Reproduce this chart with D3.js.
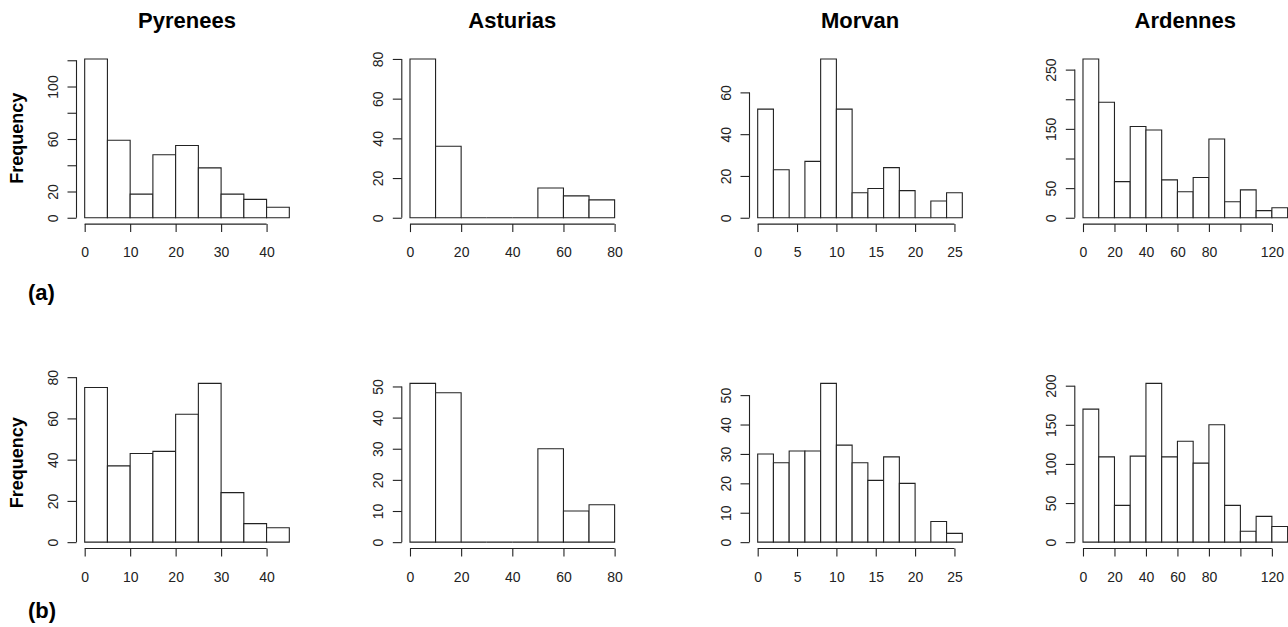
<!DOCTYPE html>
<html>
<head>
<meta charset="utf-8">
<script src="https://cdn.jsdelivr.net/npm/d3@7"></script>
<style>
  html, body { margin: 0; padding: 0; background: #fff; }
  svg { display: block; font-family: "Liberation Sans", Arial, Helvetica, sans-serif; }
</style>
</head>
<body>
<svg id="chart" width="1288" height="627"></svg>
<script>
// ---- data ----
const regions = ["Pyrenees", "Asturias", "Morvan", "Ardennes"];
const binWidths = [5, 10, 2, 10];

// row (a) frequencies per bin (bins start at 0)
const pyreneesA = [121, 59, 18, 48, 55, 38, 18, 14, 8];
const asturiasA = [80, 36, 0, 0, 0, 15, 11, 9];
const morvanA   = [52, 23, 0, 27, 76, 52, 12, 14, 24, 13, 0, 8, 12];
const ardennesA = [268, 195, 61, 154, 148, 64, 44, 68, 133, 27, 47, 12, 17];

// row (b) frequencies per bin
const pyreneesB = [75, 37, 43, 44, 62, 77, 24, 9, 7];
const asturiasB = [51, 48, 0, 0, 0, 30, 10, 12];
const morvanB   = [30, 27, 31, 31, 54, 33, 27, 21, 29, 20, 0, 7, 3];
const ardennesB = [170, 109, 47, 110, 203, 109, 129, 101, 150, 47, 14, 33, 20];

// x-axis ticks and labels (same for both rows)
const xTicks = [[0, 10, 20, 30, 40], [0, 20, 40, 60, 80], [0, 5, 10, 15, 20, 25], [0, 20, 40, 60, 80, 100, 120]];
const xTickLabels = [["0", "10", "20", "30", "40"], ["0", "20", "40", "60", "80"], ["0", "5", "10", "15", "20", "25"], ["0", "20", "40", "60", "80", "", "120"]];

// y-axis ticks and labels
const yTicksA = [[0, 20, 40, 60, 80, 100, 120], [0, 20, 40, 60, 80], [0, 20, 40, 60], [0, 50, 100, 150, 200, 250]];
const yTickLabelsA = [["0", "20", "", "60", "", "100", ""], ["0", "20", "40", "60", "80"], ["0", "20", "40", "60"], ["0", "50", "", "150", "", "250"]];
const yTicksB = [[0, 20, 40, 60, 80], [0, 10, 20, 30, 40, 50], [0, 10, 20, 30, 40, 50], [0, 50, 100, 150, 200]];
const yTickLabelsB = [["0", "20", "40", "60", "80"], ["0", "10", "20", "30", "40", "50"], ["0", "10", "20", "30", "40", "50"], ["0", "50", "100", "150", "200"]];

const rowLabels = ["(a)", "(b)"];
const yAxisTitle = "Frequency";

// ---- layout ----
const plotLefts = [76.5, 401.8, 749.5, 1074.8];
const plotW = 221;
const plotTops = [52.6, 377];
const plotH = 171.5;
const ink = "#222";

const rows = [
  { counts: [pyreneesA, asturiasA, morvanA, ardennesA], yTicks: yTicksA, yLabels: yTickLabelsA },
  { counts: [pyreneesB, asturiasB, morvanB, ardennesB], yTicks: yTicksB, yLabels: yTickLabelsB }
];

const svg = d3.select("#chart");

rows.forEach((row, r) => {
  const top = plotTops[r], bottom = top + plotH;
  regions.forEach((name, c) => {
    const counts = row.counts[c];
    const bw = binWidths[c];
    const xmax = counts.length * bw;
    const ymax = d3.max(counts);
    const left = plotLefts[c];
    const x = d3.scaleLinear().domain([-0.04 * xmax, 1.04 * xmax]).range([left, left + plotW]);
    const y = d3.scaleLinear().domain([-0.04 * ymax, 1.04 * ymax]).range([bottom, top]);
    const g = svg.append("g");

    // bars
    g.selectAll("path.bar").data(counts).join("path")
      .attr("class", "bar")
      .attr("d", (d, i) => {
        const x0 = x(i * bw), x1 = x((i + 1) * bw), y0 = y(0), y1 = y(d);
        return `M${x0},${y0}V${y1}H${x1}V${y0}Z`;
      })
      .attr("fill", "#fff").attr("stroke", ink).attr("stroke-width", 1.1);

    // x axis
    const xt = xTicks[c], xl = xTickLabels[c];
    const xAxis = d3.axisBottom(x).tickValues(xt).tickSize(8).tickSizeOuter(0)
      .tickFormat((d, i) => xl[i]);
    const gx = g.append("g").attr("transform", `translate(0,${bottom})`).call(xAxis);
    gx.select(".domain").remove();
    gx.append("line").attr("x1", x(xt[0])).attr("x2", x(xt[xt.length - 1]))
      .attr("y1", 0).attr("y2", 0).attr("stroke", ink).attr("stroke-width", 1.1);
    gx.selectAll(".tick line").attr("stroke", ink).attr("stroke-width", 1.1);
    gx.selectAll(".tick text").attr("y", 33).attr("dy", 0)
      .attr("fill", ink).style("font-size", "14px");

    // y axis
    const yt = row.yTicks[c], yl = row.yLabels[c];
    const yAxis = d3.axisLeft(y).tickValues(yt).tickSize(9).tickSizeOuter(0)
      .tickFormat((d, i) => yl[i]);
    const gy = g.append("g").attr("transform", `translate(${left},0)`).call(yAxis);
    gy.select(".domain").remove();
    gy.append("line").attr("x1", 0).attr("x2", 0)
      .attr("y1", y(yt[0])).attr("y2", y(yt[yt.length - 1]))
      .attr("stroke", ink).attr("stroke-width", 1.1);
    gy.selectAll(".tick line").attr("stroke", ink).attr("stroke-width", 1.1);
    gy.selectAll(".tick text")
      .attr("x", 0).attr("dy", 0)
      .attr("transform", "translate(-19,0) rotate(-90)")
      .attr("text-anchor", "middle")
      .attr("fill", ink).style("font-size", "14px");

    // titles (top row only)
    if (r === 0) {
      svg.append("text")
        .attr("x", left + plotW / 2).attr("y", 28)
        .attr("text-anchor", "middle")
        .style("font-size", "22px").style("font-weight", "bold")
        .attr("fill", "#000")
        .text(name);
    }
    // y-axis title on first column
    if (c === 0) {
      svg.append("text")
        .attr("transform", `translate(23,${(top + bottom) / 2}) rotate(-90)`)
        .attr("text-anchor", "middle")
        .style("font-size", "18px").style("font-weight", "bold")
        .attr("fill", "#000")
        .text(yAxisTitle);
    }
  });
});

// row labels
svg.append("text").attr("x", 28).attr("y", 300)
  .style("font-size", "22px").style("font-weight", "bold").attr("fill", "#000").text(rowLabels[0]);
svg.append("text").attr("x", 28).attr("y", 618)
  .style("font-size", "22px").style("font-weight", "bold").attr("fill", "#000").text(rowLabels[1]);
</script>
</body>
</html>
